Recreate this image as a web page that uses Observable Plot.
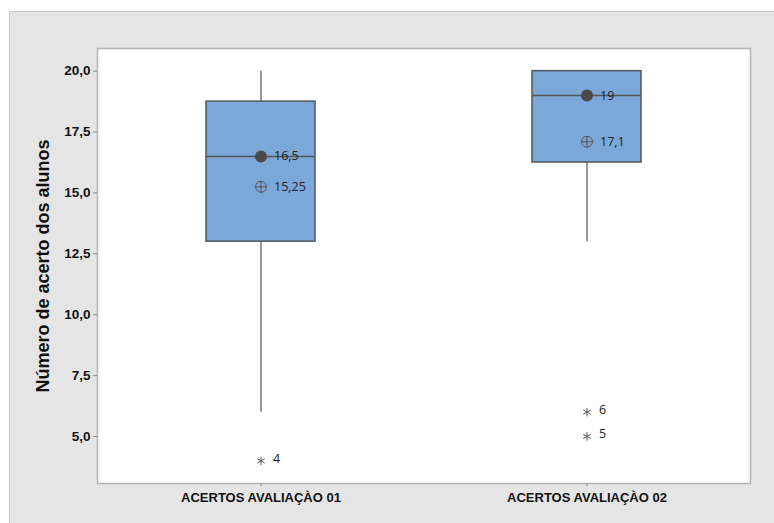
<!DOCTYPE html>
<html>
<head>
<meta charset="utf-8">
<script src="https://cdn.jsdelivr.net/npm/d3@7"></script>
<script src="https://cdn.jsdelivr.net/npm/@observablehq/plot@0.6"></script>
<style>
  html, body { margin: 0; padding: 0; background: #ffffff; }
  #panel {
    position: absolute; left: 9px; top: 11px;
    width: 765px; height: 512px;
    background: #e5e5e5;
    border-top: 1px solid #c9c9c9; border-left: 1px solid #c9c9c9;
    box-sizing: border-box;
  }
  #panel svg { display: block; background: transparent; }
</style>
</head>
<body>
<div id="panel"></div>
<script>
// ---- data ----
const categories = ["ACERTOS AVALIAÇÀO 01", "ACERTOS AVALIAÇÀO 02"];
const q1Values = [13, 16.25];
const medianValues = [16.5, 19];
const q3Values = [18.75, 20];
const whiskerLow = [6, 13];
const whiskerHigh = [20, 20];
const meanValues = [15.25, 17.1];
const outlierCategories = ["ACERTOS AVALIAÇÀO 01", "ACERTOS AVALIAÇÀO 02", "ACERTOS AVALIAÇÀO 02"];
const outlierValues = [4, 6, 5];
const yTicks = [5, 7.5, 10, 12.5, 15, 17.5, 20];
const yLabel = "Número de acerto dos alunos";

const boxes = categories.map((c, i) => ({
  cat: c, q1: q1Values[i], med: medianValues[i], q3: q3Values[i],
  lo: whiskerLow[i], hi: whiskerHigh[i], mean: meanValues[i]
}));
const outliers = outlierValues.map((v, i) => ({cat: outlierCategories[i], v}));

const comma = v => String(v).replace(".", ",");
const tickFmt = v => d3.format(".1f")(v).replace(".", ",");

const circlePlus = {
  draw(ctx, size) {
    const r = Math.sqrt(size / Math.PI);
    ctx.moveTo(r, 0);
    ctx.arc(0, 0, r, 0, 2 * Math.PI);
    ctx.moveTo(-r, 0); ctx.lineTo(r, 0);
    ctx.moveTo(0, -r); ctx.lineTo(0, r);
  }
};

const labelFont = "'Open Sans', 'Noto Sans', sans-serif";

const chart = Plot.plot({
  width: 764,
  height: 511,
  marginLeft: 87,
  marginTop: 36,
  marginRight: 24,
  marginBottom: 40,
  style: {fontFamily: "'Liberation Sans', Arial, sans-serif", background: "transparent", overflow: "visible"},
  x: {type: "band", domain: categories, paddingInner: 0.666, paddingOuter: 0.333, label: null},
  y: {domain: [3.07, 20.93], label: null},
  marks: [
    Plot.frame({fill: "white", stroke: "#b3b3b3", strokeWidth: 1.5}),
    Plot.axisY({ticks: yTicks, tickFormat: tickFmt, tickSize: 4, tickPadding: 3, stroke: "#8c8c8c",
      fontSize: 13.5, fontWeight: "bold", fill: "#111", label: null}),
    Plot.axisX({tickSize: 3, tickPadding: 6, stroke: "#8c8c8c", fontSize: 13, fontWeight: "bold",
      fill: "#111", label: null, style: {letterSpacing: "-0.45px"}}),
    Plot.text([yLabel], {frameAnchor: "left", textAnchor: "middle", lineAnchor: "middle", rotate: -90,
      dx: -54, fontSize: 18, fontWeight: "bold", fill: "#111"}),
    Plot.ruleX(boxes, {x: "cat", y1: "lo", y2: "hi", stroke: "#555", strokeWidth: 1.2}),
    Plot.barY(boxes, {x: "cat", y1: "q1", y2: "q3", fill: "#7ba7d9", stroke: "#555", strokeWidth: 1.5}),
    Plot.tickY(boxes, {x: "cat", y: "med", stroke: "#555", strokeWidth: 1.5}),
    Plot.dot(boxes, {x: "cat", y: "med", r: 6, fill: "#4a4a4a", stroke: "none"}),
    Plot.dot(boxes, {x: "cat", y: "mean", r: 5.5, symbol: circlePlus, stroke: "#555", fill: "none", strokeWidth: 1}),
    Plot.dot(outliers, {x: "cat", y: "v", r: 4, symbol: "asterisk", stroke: "#555", strokeWidth: 1}),
    Plot.text(boxes, {x: "cat", y: "med", text: d => comma(d.med), dx: 13, textAnchor: "start",
      fontSize: 12.5, fill: "#222", fontFamily: labelFont}),
    Plot.text(boxes, {x: "cat", y: "mean", text: d => comma(d.mean), dx: 13, textAnchor: "start",
      fontSize: 12.5, fill: "#222", fontFamily: labelFont}),
    Plot.text(outliers, {x: "cat", y: "v", text: d => comma(d.v), dx: 12, dy: -2, textAnchor: "start",
      fontSize: 12.5, fill: "#222", fontFamily: labelFont})
  ]
});
document.getElementById("panel").appendChild(chart);
</script>
</body>
</html>
